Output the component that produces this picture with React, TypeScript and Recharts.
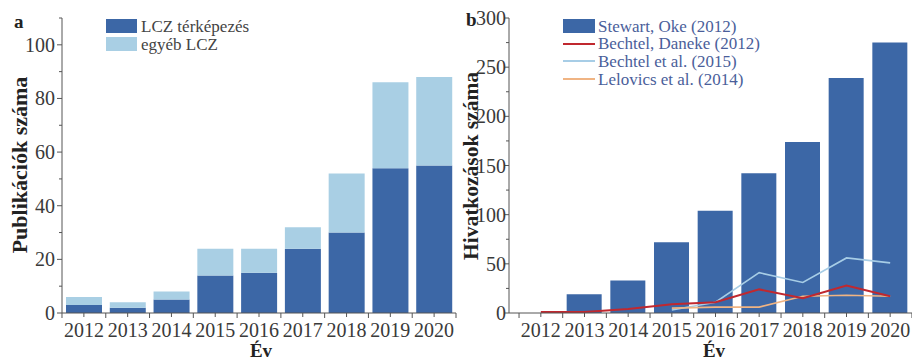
import React from "react";
import {
  BarChart,
  ComposedChart,
  Bar,
  Line,
  XAxis,
  YAxis,
} from "recharts";

const years = ["2012", "2013", "2014", "2015", "2016", "2017", "2018", "2019", "2020"];

// a: publikációk
const lczMapping = [3, 2, 5, 14, 15, 24, 30, 54, 55];
const otherLcz = [3, 2, 3, 10, 9, 8, 22, 32, 33];
const pubTicks = [0, 10, 20, 30, 40, 50, 60, 70, 80, 90, 100, 110];

// b: hivatkozások
const stewartOke = [0, 19, 33, 72, 104, 142, 174, 239, 275];
const bechtelDaneke = [1, 1, 4, 9, 11, 24, 15, 28, 17];
const bechtelEtAl = [null, null, null, 3, 11, 41, 31, 56, 51];
const lelovics = [null, null, null, 5, 6, 6, 17, 18, 17];
const citeTicks = [0, 25, 50, 75, 100, 125, 150, 175, 200, 225, 250, 275, 300];

const DARK = "#3c67a6";
const LIGHT = "#a9cfe4";
const RED = "#c0282f";
const SKY = "#a7cde6";
const ORANGE = "#f0b483";
const AXIS = "#555";
const TEXT = "#3a3a3a";
const FONT =
  "'Liberation Serif', 'Times New Roman', Tinos, Times, 'Noto Serif', 'DejaVu Serif', FreeSerif, serif";

const pubData = years.map((year, i) => ({
  year,
  mapping: lczMapping[i],
  other: otherLcz[i],
}));

const citeData = years.map((year, i) => ({
  year,
  stewart: stewartOke[i],
  daneke: bechtelDaneke[i],
  bechtel: bechtelEtAl[i],
  lelovics: lelovics[i],
}));

const makeYTick = (labelStep: number, gap: number) => (props: any) => {
  const { x, y, payload } = props;
  const major = payload.value % labelStep === 0;
  return (
    <g>
      <line x1={x} x2={x - (major ? 5 : 3)} y1={y} y2={y} stroke={AXIS} strokeWidth={1} />
      {major && (
        <text x={x - gap} y={y} dy="0.35em" textAnchor="end" fill={TEXT} fontSize={20} style={{ fontFamily: FONT }}>
          {payload.value}
        </text>
      )}
    </g>
  );
};

const makeXTick = (half: number, count: number) => (props: any) => {
  const { x, y, payload, index } = props;
  return (
    <g>
      <line x1={x} x2={x} y1={y} y2={y + 4} stroke={AXIS} />
      <line x1={x - half} x2={x - half} y1={y} y2={y + 5} stroke={AXIS} />
      {index === count - 1 && (
        <line x1={x + half} x2={x + half} y1={y} y2={y + 5} stroke={AXIS} />
      )}
      <text x={x} y={y + 24} textAnchor="middle" fill={TEXT} fontSize={20} style={{ fontFamily: FONT }}>
        {payload.value}
      </text>
    </g>
  );
};

const abs = (left: number, top: number, extra: React.CSSProperties = {}): React.CSSProperties => ({
  position: "absolute",
  left,
  top,
  fontFamily: FONT,
  whiteSpace: "nowrap",
  lineHeight: 1,
  ...extra,
});

const VTitle = ({ cx, cy, text, size }: { cx: number; cy: number; text: string; size: number }) => (
  <div
    style={abs(cx, cy, {
      transform: "translate(-50%, -50%) rotate(-90deg)",
      fontWeight: "bold",
      fontSize: size,
      color: "#222",
    })}
  >
    {text}
  </div>
);

const XTitle = ({ cx }: { cx: number }) => (
  <div
    style={abs(cx, 342, {
      transform: "translateX(-50%)",
      fontWeight: "bold",
      fontSize: 19,
      lineHeight: "17px",
      color: "#222",
    })}
  >
    Év
  </div>
);

const leftLegend = [
  { name: "LCZ térképezés", color: DARK },
  { name: "egyéb LCZ", color: LIGHT },
];

const rightLegend = [
  { name: "Stewart, Oke (2012)", color: DARK, kind: "bar" },
  { name: "Bechtel, Daneke (2012)", color: RED, kind: "line" },
  { name: "Bechtel et al. (2015)", color: SKY, kind: "line" },
  { name: "Lelovics et al. (2014)", color: ORANGE, kind: "line" },
];

export default function App() {
  return (
    <div style={{ position: "absolute", left: 0, top: 0, width: 912, height: 362, background: "#fff", overflow: "hidden" }}>
      {/* a panel */}
      <div style={abs(0, 0)}>
        <BarChart width={460} height={362} data={pubData} margin={{ top: 18, right: 4, left: 0, bottom: 0 }} barSize={36}>
          <XAxis
            dataKey="year"
            height={49}
            stroke={AXIS}
            tickLine={false}
            tickSize={0}
            tickMargin={0}
            interval={0}
            tick={makeXTick(21.9, years.length)}
          />
          <YAxis
            width={62}
            domain={[0, 110]}
            ticks={pubTicks}
            stroke={AXIS}
            tickLine={false}
            tickSize={0}
            tickMargin={0}
            interval={0}
            tick={makeYTick(20, 7)}
          />
          <Bar dataKey="mapping" stackId="p" fill={DARK} isAnimationActive={false} />
          <Bar dataKey="other" stackId="p" fill={LIGHT} isAnimationActive={false} />
        </BarChart>
      </div>

      {/* b panel */}
      <div style={abs(460, 0)}>
        <ComposedChart width={452} height={362} data={citeData} margin={{ top: 18, right: 0, left: 0, bottom: 0 }} barSize={35}>
          <XAxis
            dataKey="year"
            height={49}
            stroke={AXIS}
            padding={{ left: 10, right: 0 }}
            tickLine={false}
            tickSize={0}
            tickMargin={0}
            interval={0}
            tick={makeXTick(21.8, years.length)}
          />
          <YAxis
            width={49}
            domain={[0, 300]}
            ticks={citeTicks}
            stroke={AXIS}
            tickLine={false}
            tickSize={0}
            tickMargin={0}
            interval={0}
            tick={makeYTick(50, 3)}
          />
          <Bar dataKey="stewart" fill={DARK} isAnimationActive={false} />
          <Line dataKey="bechtel" stroke={SKY} strokeWidth={1.6} dot={false} type="linear" isAnimationActive={false} />
          <Line dataKey="lelovics" stroke={ORANGE} strokeWidth={1.6} dot={false} type="linear" isAnimationActive={false} />
          <Line dataKey="daneke" stroke={RED} strokeWidth={2} dot={false} type="linear" isAnimationActive={false} />
        </ComposedChart>
      </div>

      {/* panel letters */}
      <div style={abs(14, 12, { fontWeight: "bold", fontSize: 19, color: "#222" })}>a</div>
      <div style={abs(466, 10, { fontWeight: "bold", fontSize: 19, color: "#222" })}>b</div>

      {/* axis titles */}
      <VTitle cx={20} cy={165} text="Publikációk száma" size={22} />
      <VTitle cx={472} cy={166} text="Hivatkozások száma" size={21.5} />
      <XTitle cx={261} />
      <XTitle cx={714} />

      {/* legends */}
      {leftLegend.map((item, i) => (
        <div key={item.name} style={abs(106, 19 + i * 18, { display: "flex", alignItems: "center", height: 14 })}>
          <div style={{ width: 31, height: 14, background: item.color }} />
          <span style={{ marginLeft: 4, fontSize: 17, color: "#444" }}>{item.name}</span>
        </div>
      ))}
      {rightLegend.map((item, i) => (
        <div key={item.name} style={abs(563, 19 + i * 17.7, { display: "flex", alignItems: "center", height: 14 })}>
          {item.kind === "bar" ? (
            <div style={{ width: 32, height: 14, background: item.color }} />
          ) : (
            <div style={{ width: 32, height: 2, background: item.color }} />
          )}
          <span style={{ marginLeft: 3, fontSize: 17, color: "#4a5e9a" }}>{item.name}</span>
        </div>
      ))}
    </div>
  );
}
